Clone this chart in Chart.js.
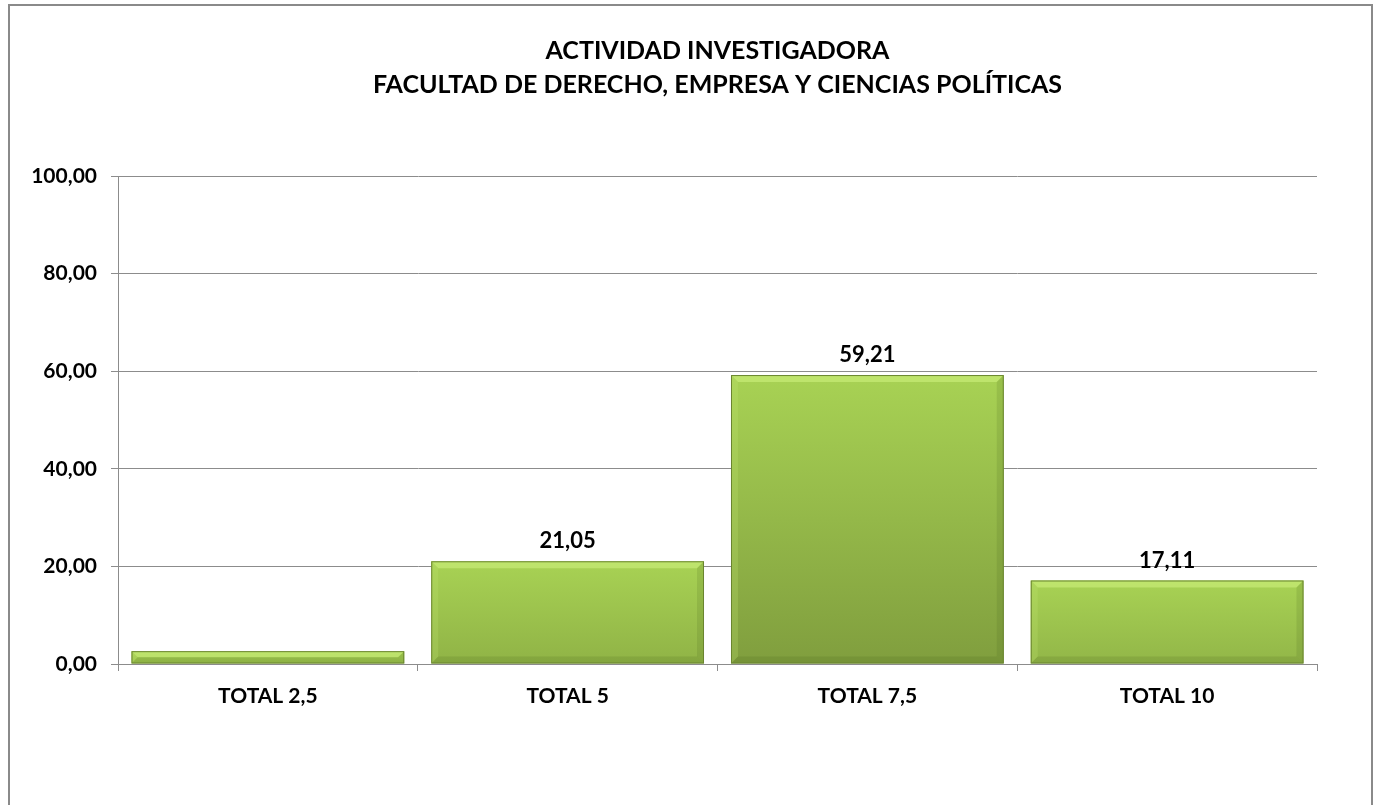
<!DOCTYPE html>
<html>
<head>
<meta charset="utf-8">
<script src="https://cdn.jsdelivr.net/npm/chart.js@4"></script>
<style>
    body { margin: 0; background: #fff; }
    #frame {
        position: absolute; left: 8px; top: 4px;
        width: 1361px; height: 820px;
        border: 2px solid #8a8a8a; overflow: hidden;
    }
    #wrap { width: 1361px; height: 799px; }
</style>
</head>
<body>
<div id="frame"><div id="wrap"><canvas id="myChart"></canvas></div></div>
<script>
var titleLines = ['ACTIVIDAD INVESTIGADORA', 'FACULTAD DE DERECHO, EMPRESA Y CIENCIAS POLÍTICAS'];
var categories = ['TOTAL 2,5', 'TOTAL 5', 'TOTAL 7,5', 'TOTAL 10'];
var values = [2.63, 21.05, 59.21, 17.11];
var showValue = [false, true, true, true];
var yTicks = [0, 20, 40, 60, 80, 100];

var fontFamily = 'Lato, "Open Sans", sans-serif';

function fmt(v) {
    return v.toFixed(2).replace('.', ',');
}

function mix(a, b, t) {
    var r = Math.round(a[0] + (b[0] - a[0]) * t);
    var g = Math.round(a[1] + (b[1] - a[1]) * t);
    var bl = Math.round(a[2] + (b[2] - a[2]) * t);
    return 'rgb(' + r + ',' + g + ',' + bl + ')';
}

// vertical gradient for each bar, darker at the bottom for taller bars
function barFill(ctx) {
    var chart = ctx.chart;
    var y = chart.scales.y;
    if (!chart.chartArea || !y || ctx.parsed === undefined) return '#9cc44e';
    var top = y.getPixelForValue(ctx.parsed.y);
    var base = y.getPixelForValue(0);
    if (!isFinite(top) || base - top < 1) return '#9cc44e';
    var frac = (base - top) / (chart.chartArea.bottom - chart.chartArea.top);
    var light = [166, 208, 82], dark = [128, 158, 62];
    var g = chart.ctx.createLinearGradient(0, top, 0, base);
    g.addColorStop(0, 'rgb(168,210,84)');
    g.addColorStop(1, mix(light, dark, Math.min(1, frac * 1.6 + 0.25)));
    return g;
}

// soft bevel on the bar edges, like the office chart style
var bevel = {
    id: 'bevel',
    afterDatasetsDraw: function (chart) {
        var ctx = chart.ctx;
        var meta = chart.getDatasetMeta(0);
        ctx.save();
        meta.data.forEach(function (bar) {
            var l = bar.x - bar.width / 2, r = bar.x + bar.width / 2;
            var t = bar.y, b = bar.base;
            var d = Math.min(7, (b - t) / 2);
            // top
            ctx.fillStyle = 'rgba(205,240,125,0.6)';
            ctx.beginPath();
            ctx.moveTo(l, t); ctx.lineTo(r, t); ctx.lineTo(r - d, t + d); ctx.lineTo(l + d, t + d);
            ctx.fill();
            // left
            ctx.fillStyle = 'rgba(190,226,110,0.25)';
            ctx.beginPath();
            ctx.moveTo(l, t); ctx.lineTo(l + d, t + d); ctx.lineTo(l + d, b - d); ctx.lineTo(l, b);
            ctx.fill();
            // right
            ctx.fillStyle = 'rgba(70,95,25,0.15)';
            ctx.beginPath();
            ctx.moveTo(r, t); ctx.lineTo(r - d, t + d); ctx.lineTo(r - d, b - d); ctx.lineTo(r, b);
            ctx.fill();
            // bottom
            ctx.fillStyle = 'rgba(60,85,20,0.15)';
            ctx.beginPath();
            ctx.moveTo(l, b); ctx.lineTo(l + d, b - d); ctx.lineTo(r - d, b - d); ctx.lineTo(r, b);
            ctx.fill();
            ctx.strokeStyle = '#6a8530';
            ctx.lineWidth = 1;
            ctx.strokeRect(l + 0.5, t + 0.5, r - l - 1, b - t - 1);
        });
        ctx.restore();
    }
};

var valueLabels = {
    id: 'valueLabels',
    afterDatasetsDraw: function (chart) {
        var ctx = chart.ctx;
        var meta = chart.getDatasetMeta(0);
        ctx.save();
        ctx.font = 'bold 22px ' + fontFamily;
        ctx.fillStyle = '#000';
        ctx.textAlign = 'center';
        ctx.textBaseline = 'middle';
        meta.data.forEach(function (bar, i) {
            if (!showValue[i]) return;
            ctx.fillText(fmt(values[i]), bar.x, bar.y - 20);
        });
        ctx.restore();
    }
};

var chart = new Chart(document.getElementById('myChart'), {
    type: 'bar',
    data: {
        labels: categories,
        datasets: [{
            data: values,
            backgroundColor: barFill,
            borderWidth: 0,
            categoryPercentage: 0.91,
            barPercentage: 1.0,
        }]
    },
    plugins: [bevel, valueLabels],
    options: {
        responsive: true,
        maintainAspectRatio: false,
        animation: false,
        layout: {
            padding: { left: 0, right: 54, top: 0, bottom: 91 }
        },
        plugins: {
            legend: { display: false },
            tooltip: { enabled: false },
            title: {
                display: true,
                text: titleLines,
                fullSize: false,
                color: '#000',
                font: { family: fontFamily, size: 25, weight: 'bold', lineHeight: 1.36 },
                padding: { top: 28, bottom: 74 }
            }
        },
        scales: {
            x: {
                grid: {
                    display: true,
                    offset: true,
                    drawOnChartArea: false,
                    drawTicks: true,
                    tickLength: 7,
                    color: '#8c8c8c'
                },
                border: { color: '#8c8c8c' },
                ticks: {
                    color: '#000',
                    padding: 13,
                    font: { family: fontFamily, size: 21, weight: 'bold' }
                },
                afterFit: function (scale) { scale.height = 50; }
            },
            y: {
                min: 0,
                max: 100,
                afterBuildTicks: function (scale) {
                    scale.ticks = yTicks.map(function (v) { return { value: v }; });
                },
                grid: {
                    color: '#8c8c8c',
                    tickLength: 7
                },
                border: { color: '#8c8c8c' },
                ticks: {
                    color: '#000',
                    padding: 14,
                    font: { family: fontFamily, size: 21, weight: 'bold' },
                    callback: function (v) { return fmt(v); }
                },
                afterFit: function (scale) { scale.width = 108; }
            }
        }
    }
});
</script>
</body>
</html>
